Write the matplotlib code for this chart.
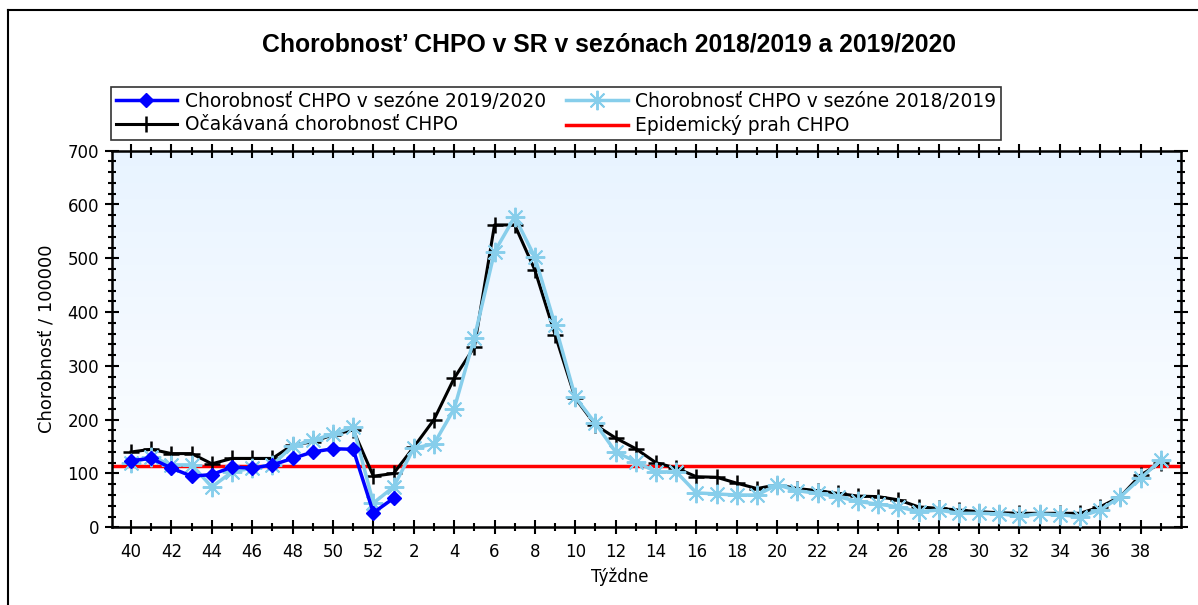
import numpy as np
import matplotlib
matplotlib.use("Agg")
import matplotlib.pyplot as plt
from matplotlib.lines import Line2D

plt.rcParams['font.family'] = ['DejaVu Sans']

# ---- data ----
weeks = [40, 41, 42, 43, 44, 45, 46, 47, 48, 49, 50, 51, 52] + list(range(1, 40))

season_2019_2020 = [124, 128, 110, 95, 98, 112, 110, 116, 128, 140, 146, 145, 27, 54]

season_2018_2019 = [119, 131, 116, 116, 75, 103, 110, 116, 151, 162, 173, 187, 45, 75,
                    147, 155, 220, 352, 512, 577, 502, 376, 242, 193, 140, 122, 103, 103,
                    64, 62, 60, 60, 79, 68, 63, 57, 48, 43, 38, 29, 32, 26,
                    26, 25, 21, 25, 23, 20, 32, 57, 91, 125]

expected = [140, 145, 137, 137, 118, 128, 128, 128, 153, 159, 172, 181, 95, 100,
            149, 200, 277, 335, 562, 562, 478, 358, 240, 190, 166, 146, 120, 110,
            94, 93, 82, 72, 79, 72, 68, 63, 58, 57, 51, 38, 35, 32,
            29, 27, 26, 26, 26, 26, 38, 57, 97, 120]

threshold = 114

labels = {
    "s2020": "Chorobnosť CHPO v sezóne 2019/2020",
    "s2019": "Chorobnosť CHPO v sezóne 2018/2019",
    "exp": "Očakávaná chorobnosť CHPO",
    "thr": "Epidemický prah CHPO",
}
title = "Chorobnost’ CHPO v SR v sezónach 2018/2019 a 2019/2020"
xlabel = "Týždne"
ylabel = "Chorobnosť / 100000"

# ---- figure ----
W, H = 1198, 605
fig = plt.figure(figsize=(W / 100, H / 100), dpi=100)
fig.patch.set_facecolor("white")

# outer frame (left and top edges visible)
fig.add_artist(Line2D([8 / W, 8 / W], [0, 1 - 10 / H], transform=fig.transFigure, color="black", lw=1.5))
fig.add_artist(Line2D([8 / W, 1], [1 - 10 / H, 1 - 10 / H], transform=fig.transFigure, color="black", lw=1.5))

left, right = 111.7 / W, 1181 / W
bottom, top = 1 - 527.3 / H, 1 - 150.7 / H
ax = fig.add_axes([left, bottom, right - left, top - bottom])

x_all = np.arange(len(weeks))
x20 = x_all[:len(season_2019_2020)]

# gradient background
grad = np.linspace(0, 1, 256).reshape(-1, 1)
top_c = np.array([0.91, 0.955, 1.0])
bot_c = np.array([1.0, 1.0, 1.0])
img = top_c * (1 - grad[..., None]) + bot_c * grad[..., None]
img = np.repeat(img, 2, axis=1)
ax.imshow(img, extent=[0, 1, 0, 1], transform=ax.transAxes, aspect="auto", zorder=0)

ax.axhline(threshold, color="#ff0000", lw=2.5, zorder=2)
ax.plot(x_all, expected, color="black", lw=2.2, marker="+", ms=12, mew=1.8, zorder=3)
ax.plot(x_all, season_2018_2019, color="#87ceeb", lw=2.5, marker=(8, 2, 0), ms=14, mew=1.4, zorder=4)
ax.plot(x20, season_2019_2020, color="#0000ff", lw=2.5, marker="D", ms=7, zorder=5)

ax.set_xlim(-0.96, 52.0)
ax.set_ylim(0, 700)

ax.set_yticks(np.arange(0, 701, 100))
ax.set_yticks(np.arange(0, 701, 20), minor=True)
ax.set_xticks(x_all[::2])
ax.set_xticklabels([str(w) for w in weeks[::2]])
ax.set_xticks(x_all[1::2], minor=True)

ax.tick_params(axis="both", which="major", direction="inout", length=10, width=1.5,
               labelsize=12, colors="black")
ax.tick_params(axis="x", which="major", pad=6)
ax.tick_params(axis="y", which="major", pad=4)
ax.tick_params(axis="both", which="minor", direction="inout", length=6, width=1.5)
ax.tick_params(top=True, right=True, which="both")
for s in ax.spines.values():
    s.set_linewidth(1.8)

ax.set_xlabel(xlabel, fontsize=12, labelpad=1)
ax.xaxis.set_label_coords(0.475, -0.108)
ax.set_ylabel(ylabel, fontsize=13, labelpad=6)
ax.yaxis.set_label_coords(-0.053, 0.5)

fig.text(0.508, 1 - 45 / H, title, ha="center", va="center", fontsize=17.8,
         fontweight="bold", family=["Liberation Sans", "DejaVu Sans"])

h_blue = Line2D([], [], color="#0000ff", lw=2.5, marker="D", ms=7)
h_exp = Line2D([], [], color="black", lw=2.2, marker="+", ms=12, mew=1.8)
h_lb = Line2D([], [], color="#87ceeb", lw=2.5, marker=(8, 2, 0), ms=14, mew=1.4)
h_red = Line2D([], [], color="#ff0000", lw=2.5)
leg = fig.legend([h_blue, h_exp, h_lb, h_red],
                 [labels["s2020"], labels["exp"], labels["s2019"], labels["thr"]],
                 ncol=2, loc="upper left",
                 bbox_to_anchor=(111 / W, 1 - 87 / H),
                 fancybox=False, frameon=True, edgecolor="black",
                 fontsize=13.4, handlelength=3.3, borderaxespad=0, borderpad=0.25,
                 labelspacing=0.25, columnspacing=1.1, handletextpad=0.4)
leg.get_frame().set_linewidth(1.2)

fig.savefig("out.png", dpi=100)
